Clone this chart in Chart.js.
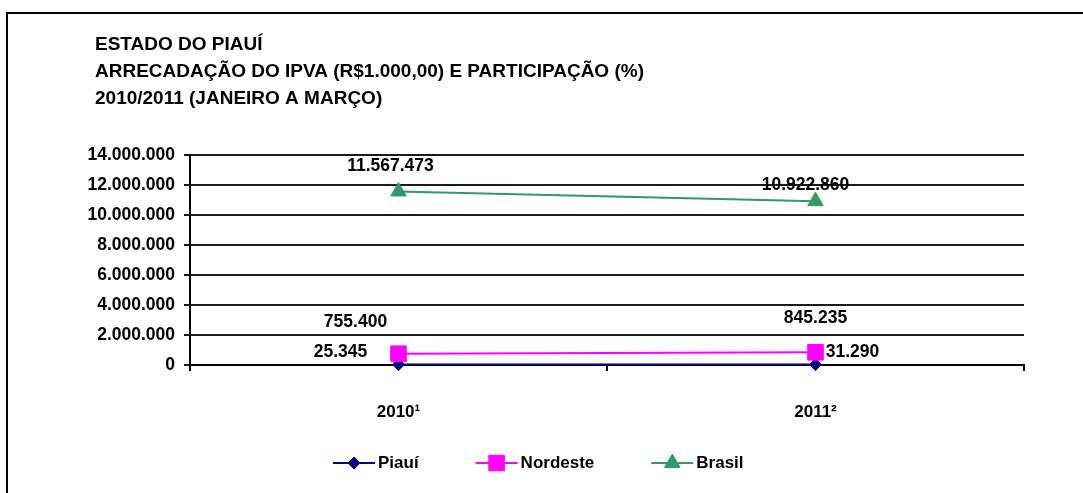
<!DOCTYPE html>
<html lang="pt-BR">
<head>
<meta charset="UTF-8">
<title>Arrecadação do IPVA - Piauí</title>
<script src="https://cdn.jsdelivr.net/npm/chart.js@4"></script>
<style>
  * { margin: 0; padding: 0; box-sizing: border-box; }
  body { background: #fff; }
  .wrap { position: relative; width: 1083px; height: 493px; }
</style>
</head>
<body>
<div class="wrap"><canvas id="ipvaChart"></canvas></div>
<script>
// dados
const anos = ['2010¹', '2011²'];
const piaui = [25345, 31290];
const nordeste = [755400, 845235];
const brasil = [11567473, 10922860];
const yTickLabels = ['0', '2.000.000', '4.000.000', '6.000.000', '8.000.000', '10.000.000', '12.000.000', '14.000.000'];
const titulo = [
    'ESTADO DO PIAUÍ',
    'ARRECADAÇÃO DO IPVA (R$1.000,00) E PARTICIPAÇÃO (%)',
    '2010/2011 (JANEIRO A MARÇO)'
];

const FONTE = '"Liberation Sans", Arial, sans-serif';
Chart.defaults.font.family = FONTE;
Chart.defaults.font.size = 17.5;
Chart.defaults.font.weight = 'bold';
Chart.defaults.color = '#000';

function fmt(n) {
    return String(n).replace(/\B(?=(\d{3})+(?!\d))/g, '.');
}

// deslocamento dos rótulos em relação ao ponto (x, y)
const rotulos = [
    [[-58, -12], [37, -12]],
    [[-43, -31], [0, -34]],
    [[-8, -25], [-10, -16]]
];

const moldura = {
    id: 'moldura',
    beforeDraw(chart) {
        const ctx = chart.ctx;
        ctx.save();
        ctx.fillStyle = '#fff';
        ctx.fillRect(0, 0, chart.width, chart.height);
        ctx.strokeStyle = '#000';
        ctx.lineWidth = 2;
        ctx.beginPath();
        ctx.moveTo(7, chart.height);
        ctx.lineTo(7, 13);
        ctx.lineTo(chart.width, 13);
        ctx.stroke();
        ctx.font = 'bold 19px ' + FONTE;
        ctx.fillStyle = '#000';
        ctx.textBaseline = 'middle';
        titulo.forEach((t, i) => ctx.fillText(t, 95, 45 + i * 27));
        ctx.restore();
    }
};

const valores = {
    id: 'valores',
    afterDatasetsDraw(chart) {
        const ctx = chart.ctx;
        ctx.save();
        ctx.font = 'bold 17.5px ' + FONTE;
        ctx.fillStyle = '#000';
        ctx.textAlign = 'center';
        ctx.textBaseline = 'middle';
        chart.data.datasets.forEach((ds, di) => {
            chart.getDatasetMeta(di).data.forEach((pt, i) => {
                const off = rotulos[di][i];
                ctx.fillText(fmt(ds.data[i]), pt.x + off[0], pt.y + off[1]);
            });
        });
        ctx.restore();
    }
};

function marcador(ctx, ds, x, y) {
    const opts = { pointStyle: ds.pointStyle, radius: ds.pointRadius, rotation: 0, borderWidth: 1 };
    ctx.fillStyle = ds.backgroundColor;
    ctx.strokeStyle = ds.borderColor;
    ctx.lineWidth = 1;
    Chart.helpers.drawPoint(ctx, opts, x, y);
}

const legenda = {
    id: 'legenda',
    afterDraw(chart) {
        const ctx = chart.ctx;
        const y = 463;
        let x = 333;
        ctx.save();
        ctx.font = 'bold 17px ' + FONTE;
        ctx.textBaseline = 'middle';
        chart.data.datasets.forEach(ds => {
            ctx.strokeStyle = ds.borderColor;
            ctx.lineWidth = 2;
            ctx.beginPath();
            ctx.moveTo(x, y);
            ctx.lineTo(x + 42, y);
            ctx.stroke();
            marcador(ctx, ds, x + 21, y);
            ctx.fillStyle = '#000';
            ctx.fillText(ds.label, x + 45, y);
            x += 45 + ctx.measureText(ds.label).width + 57;
        });
        ctx.restore();
    }
};

new Chart(document.getElementById('ipvaChart'), {
    type: 'line',
    data: {
        labels: anos,
        datasets: [
            { label: 'Piauí', data: piaui, borderColor: '#000080', backgroundColor: '#000080',
              pointStyle: 'rectRot', pointRadius: 6, borderWidth: 2, pointBorderWidth: 1, order: 2, clip: false },
            { label: 'Nordeste', data: nordeste, borderColor: '#FF00FF', backgroundColor: '#FF00FF',
              pointStyle: 'rect', pointRadius: 11, borderWidth: 2, pointBorderWidth: 1, order: 1, clip: false },
            { label: 'Brasil', data: brasil, borderColor: '#339966', backgroundColor: '#339966',
              pointStyle: 'triangle', pointRadius: 9, borderWidth: 2, pointBorderWidth: 1, order: 0, clip: false }
        ]
    },
    options: {
        responsive: true,
        maintainAspectRatio: false,
        animation: false,
        layout: { padding: { left: 0, right: 59, top: 155, bottom: 68 } },
        plugins: {
            legend: { display: false },
            title: { display: false },
            tooltip: { enabled: false }
        },
        scales: {
            x: {
                offset: true,
                grid: { offset: true, drawOnChartArea: false, color: '#000', lineWidth: 2, tickLength: 6 },
                border: { color: '#000', width: 2 },
                ticks: { padding: 31, font: { size: 17, weight: 'bold' } },
                afterFit(scale) { scale.height = 60; }
            },
            y: {
                min: 0,
                max: 14000000,
                grid: { color: '#1a1a1a', lineWidth: 2, tickLength: 6 },
                border: { color: '#000', width: 2 },
                ticks: {
                    stepSize: 2000000,
                    padding: 9,
                    font: { size: 17.5, weight: 'bold' },
                    callback: (v, i) => yTickLabels[i]
                },
                afterFit(scale) { scale.width = 190; }
            }
        }
    },
    plugins: [moldura, valores, legenda]
});
</script>
</body>
</html>
